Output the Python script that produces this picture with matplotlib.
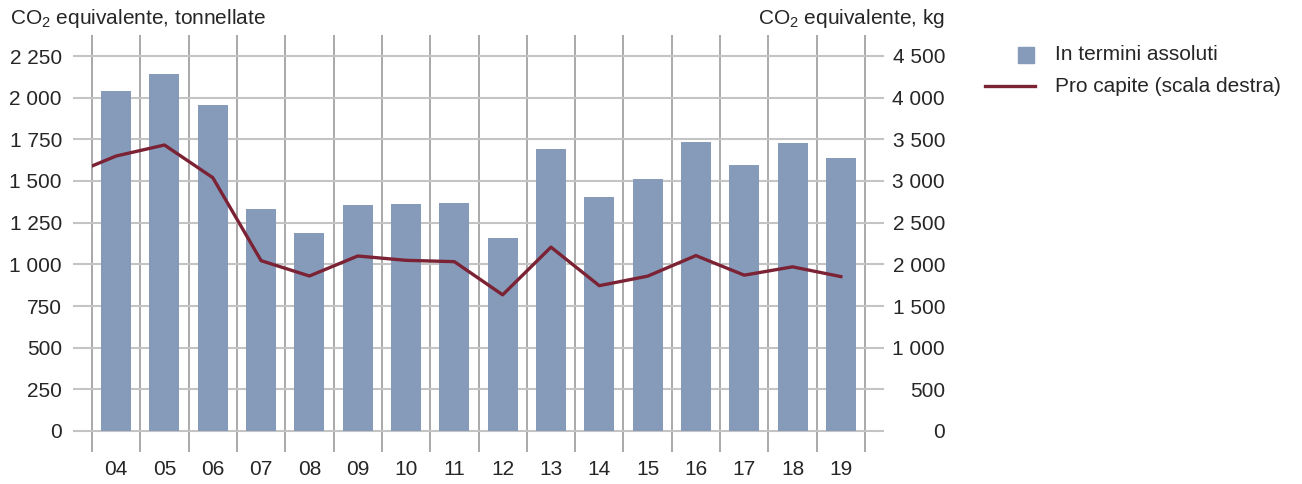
import matplotlib
matplotlib.use("Agg")
import matplotlib.pyplot as plt
from matplotlib.patches import Rectangle
from matplotlib.lines import Line2D
from matplotlib.ticker import FuncFormatter

plt.rcParams['font.family'] = ['Liberation Sans', 'DejaVu Sans']
plt.rcParams['mathtext.default'] = 'regular'

# Data
years = ["04", "05", "06", "07", "08", "09", "10", "11",
         "12", "13", "14", "15", "16", "17", "18", "19"]
absolute_t = [2040, 2142, 1956, 1332, 1188, 1356, 1362, 1368,
              1156, 1690, 1404, 1514, 1732, 1598, 1726, 1641]
# per-capita line starts one year before the visible range (clipped at edge)
per_capita_prev = 3060
per_capita_kg = [3300, 3432, 3040, 2044, 1860, 2100, 2048, 2032,
                 1634, 2206, 1744, 1858, 2105, 1870, 1970, 1853]

bar_color = "#869bba"
line_color = "#7b2335"
text_color = "#262626"
fs = 15
W, H = 1302, 484

fig = plt.figure(figsize=(W / 100, H / 100), dpi=100)
ax = fig.add_axes([73 / W, 1 - 452 / H, (884 - 73) / W, (452 - 35) / H])
ax2 = ax.twinx()

n = len(years)
x = list(range(n))
edge = 19 / 48.3
ax.set_xlim(-0.5 - edge, n - 0.5 + edge)
ax.set_ylim(-126, 2376)
ax2.set_ylim(-252, 4752)

# grid
ax.set_yticks(range(0, 2251, 250))
ax2.set_yticks(range(0, 4501, 500))
ax.grid(axis='y', color="#c4c4c4", linewidth=1.5, zorder=0)
for b in range(n + 1):
    ax.axvline(b - 0.5, color="#a3a3a3", linewidth=1.3, zorder=0.5)

ax.bar(x, absolute_t, width=0.62, color=bar_color, zorder=2)

line, = ax2.plot([-1] + x, [per_capita_prev] + per_capita_kg,
                 color=line_color, linewidth=2.4, zorder=3)
line.set_clip_path(Rectangle((-0.5, -1e4), n, 2e4, transform=ax2.transData))

fmt = FuncFormatter(lambda v, p: f"{int(v):,}".replace(",", " "))
ax.yaxis.set_major_formatter(fmt)
ax2.yaxis.set_major_formatter(fmt)

ax.set_xticks(x)
ax.set_xticklabels(years)
for a in (ax, ax2):
    for s in a.spines.values():
        s.set_visible(False)
    a.tick_params(length=0, labelsize=fs, colors=text_color)
ax.tick_params(axis='y', pad=8)
ax.tick_params(axis='x', pad=6)
ax2.tick_params(axis='y', pad=44)
for lbl in ax2.get_yticklabels():
    lbl.set_ha('right')

fig.text(10 / W, 1 - 18 / H, r"CO$_2$ equivalente, tonnellate", fontsize=fs,
         color=text_color, va='center', ha='left')
fig.text(945 / W, 1 - 18 / H, r"CO$_2$ equivalente, kg", fontsize=fs,
         color=text_color, va='center', ha='right')

# legend
fig.patches.append(Rectangle((1018 / W, 1 - 63 / H), 16 / W, 16 / H,
                             transform=fig.transFigure, color=bar_color))
fig.lines.append(Line2D([985 / W, 1035 / W], [1 - 86 / H, 1 - 86 / H],
                        transform=fig.transFigure, color=line_color, linewidth=2.4))
fig.text(1055 / W, 1 - 55 / H, "In termini assoluti", fontsize=fs,
         color=text_color, va='center', ha='left')
fig.text(1055 / W, 1 - 87 / H, "Pro capite (scala destra)", fontsize=fs,
         color=text_color, va='center', ha='left')

fig.savefig("out.png", dpi=100)
